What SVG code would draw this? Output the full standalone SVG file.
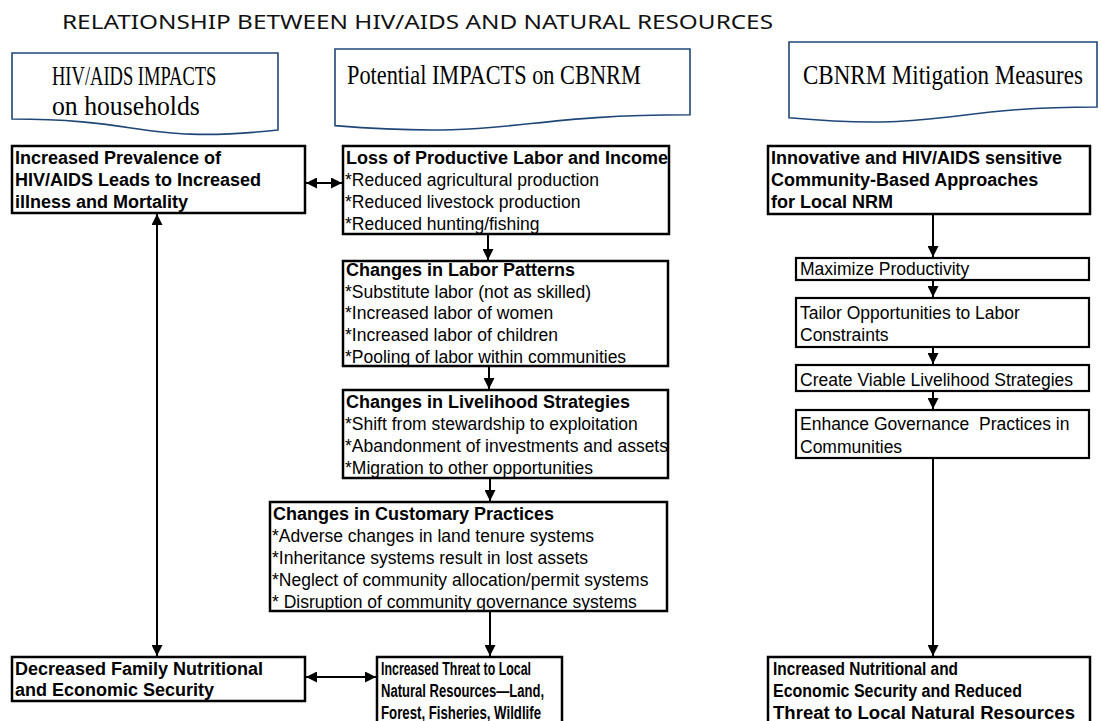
<svg xmlns="http://www.w3.org/2000/svg" width="1101" height="721" viewBox="0 0 1101 721">
<defs>
<marker id="ah" markerUnits="userSpaceOnUse" markerWidth="11" markerHeight="11" refX="10" refY="5" orient="auto-start-reverse" viewBox="0 0 10 10">
<path d="M0,0 L10,5 L0,10 z" fill="#000"/>
</marker>
<style>
.hdr{fill:#fff;stroke:#1f4677;stroke-width:1.6}
.ht{font-family:"Liberation Serif",serif;font-size:27px;fill:#000}
.box{fill:#fff;stroke:#000;stroke-width:2.5}
.sbox{fill:#fff;stroke:#000;stroke-width:2.2}
.b{font-family:"Liberation Sans",Arial,sans-serif;font-size:18px;font-weight:bold;fill:#000}
.r{font-family:"Liberation Sans",Arial,sans-serif;font-size:17.5px;fill:#000}
.c{stroke:#000;stroke-width:2;fill:none}
.ar{marker-end:url(#ah)}
.da{marker-start:url(#ah);marker-end:url(#ah)}
</style>
</defs>
<rect width="1101" height="721" fill="#fff"/>
<text x="62" y="29" font-family="'Noto Sans','Open Sans',sans-serif" font-size="19" fill="#111" textLength="711" lengthAdjust="spacingAndGlyphs">RELATIONSHIP BETWEEN HIV/AIDS AND NATURAL RESOURCES</text>

<g id="hdr-households">
<path class="hdr" d="M12,53 H278 V130 C145,144.4 145,119 12,119 Z"/>
<text class="ht" transform="translate(52,85) scale(0.686,1)">HIV/AIDS IMPACTS</text>
<text class="ht" transform="translate(52,115) scale(0.953,1)">on households</text>
</g>
<g id="hdr-potential">
<path class="hdr" d="M335,49 H690 V114.8 C512.5,114.8 512.5,139.8 335,125.6 Z"/>
<text class="ht" transform="translate(347,84) scale(0.827,1)">Potential IMPACTS on CBNRM</text>
</g>
<g id="hdr-mitigation">
<path class="hdr" d="M789,42 H1097 V107 C943,107 943,131.7 789,117.7 Z"/>
<text class="ht" transform="translate(803,84) scale(0.852,1)">CBNRM Mitigation Measures</text>
</g>

<g id="connectors">
<line class="c da" x1="306" y1="183" x2="342" y2="183"/>
<line class="c da" x1="157" y1="214" x2="157" y2="656"/>
<line class="c da" x1="306" y1="677" x2="376" y2="677"/>
<line class="c ar" x1="488" y1="235" x2="488" y2="260"/>
<line class="c ar" x1="489" y1="367" x2="489" y2="389"/>
<line class="c ar" x1="490" y1="479" x2="490" y2="501"/>
<line class="c ar" x1="490" y1="612" x2="490" y2="656"/>
<line class="c ar" x1="933" y1="215" x2="933" y2="257"/>
<line class="c ar" x1="933" y1="281" x2="933" y2="297"/>
<line class="c ar" x1="933" y1="348" x2="933" y2="364"/>
<line class="c ar" x1="933" y1="392" x2="933" y2="409"/>
<line class="c ar" x1="933" y1="459" x2="933" y2="656"/>
</g>

<g id="n-prevalence">
<rect class="box" x="12" y="146" width="293" height="67"/>
<text class="b" x="15" y="164">Increased Prevalence of</text>
<text class="b" x="15" y="186">HIV/AIDS Leads to Increased</text>
<text class="b" x="15" y="208">illness and Mortality</text>
</g>
<g id="n-loss">
<rect class="box" x="343" y="146" width="326" height="88"/>
<text class="b" x="346" y="164">Loss of Productive Labor and Income</text>
<text class="r" x="345" y="186">*Reduced agricultural production</text>
<text class="r" x="345" y="208">*Reduced livestock production</text>
<text class="r" x="345" y="230">*Reduced hunting/fishing</text>
</g>
<g id="n-labor">
<rect class="box" x="343" y="261" width="325" height="105"/>
<text class="b" x="346" y="276">Changes in Labor Patterns</text>
<text class="r" x="345" y="297.5">*Substitute labor (not as skilled)</text>
<text class="r" x="345" y="319">*Increased labor of women</text>
<text class="r" x="345" y="341">*Increased labor of children</text>
<text class="r" x="345" y="363">*Pooling of labor within communities</text>
</g>
<g id="n-livelihood">
<rect class="box" x="343" y="390" width="325" height="88"/>
<text class="b" x="346" y="408">Changes in Livelihood Strategies</text>
<text class="r" x="345" y="430">*Shift from stewardship to exploitation</text>
<text class="r" x="345" y="452">*Abandonment of investments and assets</text>
<text class="r" x="345" y="473.5">*Migration to other opportunities</text>
</g>
<g id="n-customary">
<rect class="box" x="270" y="502" width="397" height="109"/>
<text class="b" x="273" y="520">Changes in Customary Practices</text>
<text class="r" x="272" y="542">*Adverse changes in land tenure systems</text>
<text class="r" x="272" y="564">*Inheritance systems result in lost assets</text>
<text class="r" x="272" y="586">*Neglect of community allocation/permit systems</text>
<text class="r" x="272" y="607.5">* Disruption of community governance systems</text>
</g>
<g id="n-decreased">
<rect class="box" x="12" y="657" width="293" height="44"/>
<text class="b" x="15" y="675">Decreased Family Nutritional</text>
<text class="b" x="15" y="696">and Economic Security</text>
</g>
<g id="n-threat">
<rect class="box" x="377" y="657" width="185" height="70"/>
<text class="b" x="381" y="675" textLength="150" lengthAdjust="spacingAndGlyphs">Increased Threat to Local</text>
<text class="b" x="381" y="697" textLength="163" lengthAdjust="spacingAndGlyphs">Natural Resources—Land,</text>
<text class="b" x="381" y="719" textLength="160" lengthAdjust="spacingAndGlyphs">Forest, Fisheries, Wildlife</text>
</g>
<g id="n-innovative">
<rect class="box" x="768" y="146" width="322" height="68"/>
<text class="b" x="771" y="164">Innovative and HIV/AIDS sensitive</text>
<text class="b" x="771" y="186">Community-Based Approaches</text>
<text class="b" x="771" y="208">for Local NRM</text>
</g>
<g id="n-maximize">
<rect class="sbox" x="796" y="258" width="293" height="22"/>
<text class="r" x="800" y="275">Maximize Productivity</text>
</g>
<g id="n-tailor">
<rect class="sbox" x="796" y="298" width="293" height="49"/>
<text class="r" x="800" y="319">Tailor Opportunities to Labor</text>
<text class="r" x="800" y="341">Constraints</text>
</g>
<g id="n-create">
<rect class="sbox" x="796" y="365" width="293" height="26"/>
<text class="r" x="800" y="386">Create Viable Livelihood Strategies</text>
</g>
<g id="n-enhance">
<rect class="sbox" x="796" y="410" width="293" height="48"/>
<text class="r" x="800" y="430" xml:space="preserve">Enhance Governance  Practices in</text>
<text class="r" x="800" y="453">Communities</text>
</g>
<g id="n-increased">
<rect class="box" x="768" y="657" width="322" height="70"/>
<text class="b" x="773" y="675" textLength="185" lengthAdjust="spacingAndGlyphs">Increased Nutritional and</text>
<text class="b" x="773" y="697" textLength="249" lengthAdjust="spacingAndGlyphs">Economic Security and Reduced</text>
<text class="b" x="773" y="719" textLength="302" lengthAdjust="spacingAndGlyphs">Threat to Local Natural Resources</text>
</g>
</svg>
